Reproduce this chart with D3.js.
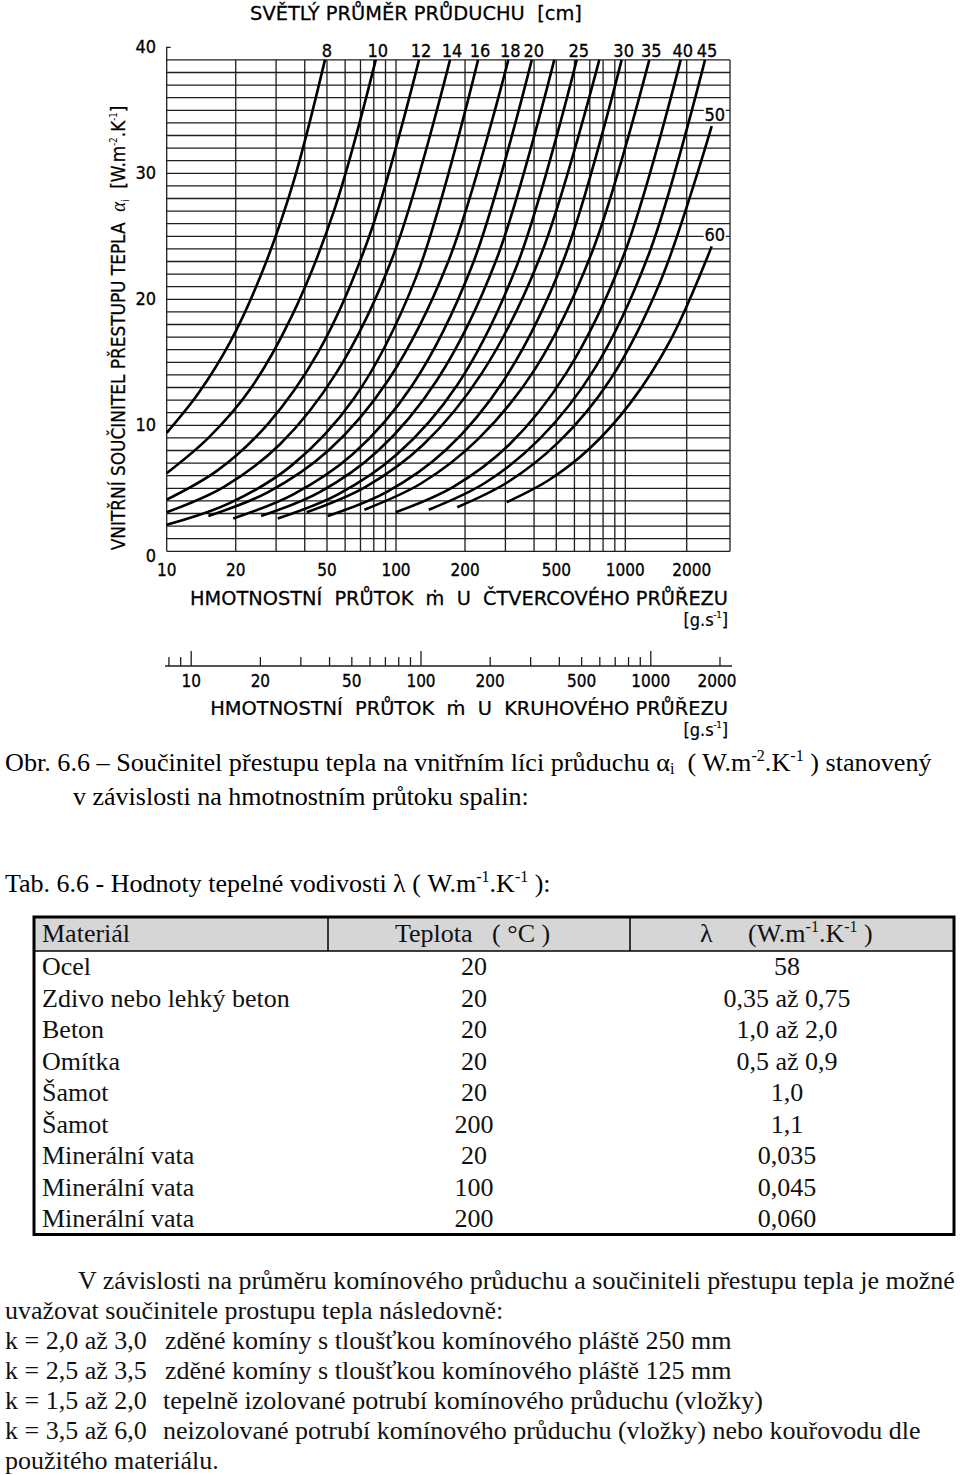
<!DOCTYPE html>
<html><head><meta charset="utf-8">
<script src="https://cdn.jsdelivr.net/npm/d3@7"></script>
<style>
body{margin:0;background:#fff;}
svg text{white-space:pre;}
</style></head><body>
<svg id="c" width="960" height="1475" xmlns="http://www.w3.org/2000/svg"></svg>
<script>
// ---------------- DATA ----------------
const yTickValues = [0, 10, 20, 30, 40];
const xGridValues = [10, 20, 30, 40, 50, 60, 70, 80, 90, 100, 200, 300, 400, 500, 600, 700, 800, 900, 1000, 2000];
const xTickLabels = [10, 20, 50, 100, 200, 500, 1000, 2000];
const rulerTicks = [8, 9, 10, 20, 30, 40, 50, 60, 70, 80, 90, 100, 200, 300, 400, 500, 600, 700, 800, 900, 1000, 2000];
const rulerMajor = [10, 100, 1000];
const rulerLabels = [10, 20, 50, 100, 200, 500, 1000, 2000];

// curves: [mass flow g/s (square section), alpha W/m2K] per flue diameter (cm)
const diameters = [8, 10, 12, 14, 16, 18, 20, 22, 25, 28, 30, 35, 40, 45, 50, 60];
const d8  = [[10, 9.4], [13.7, 12.5], [18.9, 16.6], [26, 22.1], [35.7, 29.3], [49, 39]];
const d10 = [[10, 6.2], [15.2, 9.0], [23.2, 12.9], [35.2, 18.7], [53.6, 27], [81.6, 39]];
const d12 = [[10, 4.1], [16.6, 6.4], [27.6, 10.1], [45.8, 15.8], [76.1, 24.9], [126, 39]];
const d14 = [[10, 3.1], [17.7, 5.1], [31.2, 8.5], [55.1, 14.2], [97.4, 23.5], [172, 39]];
const d16 = [[10, 2.1], [18.7, 3.8], [35, 6.8], [65.4, 12.1], [122, 21.7], [228, 39]];
const d18 = [[15.2, 2.8], [27.7, 4.7], [50.7, 8.0], [92.6, 13.6], [169, 23], [309, 39]];
const d20 = [[19.5, 2.6], [35.5, 4.5], [64.7, 7.7], [118, 13.2], [215, 22.7], [391, 39]];
const d22 = [[25.8, 2.8], [46.5, 4.7], [83.7, 8.0], [151, 13.6], [272, 23], [490, 39]];
const d25 = [[30.5, 2.6], [55.6, 4.5], [101, 7.7], [185, 13.2], [337, 22.7], [614, 39]];
const d28 = [[40.8, 3.1], [73.4, 5.1], [132, 8.5], [238, 14.2], [428, 23.5], [770, 39]];
const d30 = [[50.4, 2.8], [90.9, 4.7], [164, 8.0], [296, 13.6], [535, 23], [964, 39]];
const d35 = [[72.8, 3.3], [129, 5.4], [228, 8.9], [405, 14.5], [718, 23.8], [1311, 39]];
const d40 = [[99.7, 3.1], [177, 5.1], [313, 8.5], [555, 14.2], [984, 23.5], [1869, 39]];
const d45 = [[139, 3.3], [243, 5.4], [422, 8.9], [735, 14.5], [1319, 23.8], [2459, 39]];
const d50 = [[185, 3.5], [308, 5.5], [514, 8.7], [857, 13.6], [1493, 21.5], [2652, 33.75]];
const d60 = [[304, 3.9], [459, 5.6], [693, 8.1], [1051, 11.7], [1670, 16.8], [2652, 24.2]];
const curves = [d8, d10, d12, d14, d16, d18, d20, d22, d25, d28, d30, d35, d40, d45, d50, d60];
const topLabelled = [8, 10, 12, 14, 16, 18, 20, 25, 30, 35, 40, 45];
const sideLabelled = [50, 60];

// table
const tableHeader = ["Materiál", "Teplota", "λ"];
const tableMaterials = ["Ocel", "Zdivo nebo lehký beton", "Beton", "Omítka", "Šamot", "Šamot", "Minerální vata", "Minerální vata", "Minerální vata"];
const tableTemps = ["20", "20", "20", "20", "20", "200", "20", "100", "200"];
const tableLambdas = ["58", "0,35 až 0,75", "1,0 až 2,0", "0,5 až 0,9", "1,0", "1,1", "0,035", "0,045", "0,060"];

// notes
const noteLines = ["V závislosti na průměru komínového průduchu a součiniteli přestupu tepla je možné",
                   "uvažovat součinitele prostupu tepla následovně:"];
const kValues = ["k = 2,0 až 3,0", "k = 2,5 až 3,5", "k = 1,5 až 2,0", "k = 3,5 až 6,0"];
const kDescriptions = ["zděné komíny s tloušťkou komínového pláště 250 mm",
                       "zděné komíny s tloušťkou komínového pláště 125 mm",
                       "tepelně izolované potrubí komínového průduchu (vložky)",
                       "neizolované potrubí komínového průduchu (vložky) nebo kouřovodu dle"];
const lastLine = "použitého materiálu.";

// ---------------- DRAWING ----------------
const svg = d3.select("#c");
const SANS = "'DejaVu Sans Condensed','Liberation Sans Narrow','DejaVu Sans',sans-serif";
const SERIF = "'Liberation Serif','Times New Roman',serif";
const FS = 26; // serif text size

function fit(sel, w, anchor) {
  const b = sel.node().getBBox();
  const s = w / b.width;
  const ax = anchor === "start" ? b.x : anchor === "end" ? b.x + b.width : b.x + b.width / 2;
  sel.attr("transform", `translate(${ax},0) scale(${s},1) translate(${-ax},0)`);
}

const x = d3.scaleLog().domain([10, 1000, 2000, 3260]).range([166.7, 625.3, 686.7, 730]);
const y = d3.scaleLinear().domain([0, 40]).range([551.3, 47.3]);
const xr = d3.scaleLog().domain([10, 1000]).range([191.2, 650.8]);

const chart = svg.append("g");
const gridColor = "#1e1e1e";

// horizontal grid
chart.append("g").selectAll("line").data(d3.range(0, 40)).join("line")
  .attr("x1", x(10)).attr("x2", x(3260))
  .attr("y1", d => y(d)).attr("y2", d => y(d))
  .attr("stroke", gridColor).attr("stroke-width", 1.3);
// vertical grid
chart.append("g").selectAll("line").data(xGridValues.concat([3260])).join("line")
  .attr("x1", d => x(d)).attr("x2", d => x(d))
  .attr("y1", y(39)).attr("y2", y(0))
  .attr("stroke", gridColor).attr("stroke-width", 1.3);
// top 40 tick (left axis extension)
chart.append("path")
  .attr("d", `M${x(10)},${y(39)}V${y(40)}h4`)
  .attr("fill", "none").attr("stroke", gridColor).attr("stroke-width", 1.3);

// y tick labels
chart.append("g").selectAll("text").data(yTickValues).join("text")
  .attr("x", 156).attr("y", d => y(d) + (d === 0 ? 11 : 6))
  .attr("text-anchor", "end")
  .attr("font-family", SANS).attr("font-size", 18)
  .attr("stroke", "#000").attr("stroke-width", 0.3)
  .text(d => d);

// x tick labels
chart.append("g").selectAll("text").data(xTickLabels).join("text")
  .attr("x", d => x(d) + (d === 2000 ? 5 : 0)).attr("y", 576)
  .attr("text-anchor", "middle")
  .attr("font-family", SANS).attr("font-size", 17)
  .attr("stroke", "#000").attr("stroke-width", 0.3)
  .text(d => d);

// curves
const line = d3.line().x(d => x(d[0])).y(d => y(d[1])).curve(d3.curveCatmullRom.alpha(0.5));
chart.append("g").selectAll("path").data(curves).join("path")
  .attr("d", line)
  .attr("fill", "none").attr("stroke", "#000").attr("stroke-width", 2.6);

// top curve labels
chart.append("g").selectAll("text").data(topLabelled).join("text")
  .attr("x", d => { const c = curves[diameters.indexOf(d)]; return x(c[c.length - 1][0]) + 2; })
  .attr("y", 57)
  .attr("text-anchor", "middle")
  .attr("font-family", SANS).attr("font-size", 18)
  .attr("stroke", "#000").attr("stroke-width", 0.3)
  .text(d => d);

// side labels (50, 60) with white boxes
const side = chart.append("g").selectAll("g").data(sideLabelled).join("g")
  .attr("transform", d => { const c = curves[diameters.indexOf(d)]; const e = c[c.length - 1];
    return `translate(${x(e[0]) + 3},${y(e[1]) - 12})`; });
side.append("rect").attr("x", -11).attr("y", -8).attr("width", 22).attr("height", 16).attr("fill", "#fff");
side.append("text").attr("text-anchor", "middle").attr("y", 6.5)
  .attr("font-family", SANS).attr("font-size", 18)
  .attr("stroke", "#000").attr("stroke-width", 0.3).text(d => d);

// titles
const t1 = chart.append("text").attr("x", 416).attr("y", 20).attr("text-anchor", "middle")
  .attr("font-family", SANS).attr("font-size", 19).attr("stroke", "#000").attr("stroke-width", 0.25)
  .text("SVĚTLÝ PRŮMĚR PRŮDUCHU  [cm]");
fit(t1, 332, "middle");

const yt = chart.append("g").attr("transform", "translate(125,328) rotate(-90)");
const ytt = yt.append("text").attr("x", 0).attr("y", 0).attr("text-anchor", "middle")
  .attr("font-family", SANS).attr("font-size", 20).attr("stroke", "#000").attr("stroke-width", 0.25);
ytt.append("tspan").text("VNITŘNÍ SOUČINITEL PŘESTUPU TEPLA  ");
ytt.append("tspan").attr("font-family", SERIF).attr("font-style", "italic").attr("stroke-width", 0).text("α");
ytt.append("tspan").attr("font-size", 10).attr("dy", 4).attr("stroke-width", 0).text("i");
ytt.append("tspan").attr("dy", -4).text("  [W.m");
ytt.append("tspan").attr("font-size", 10).attr("dy", -8).attr("stroke-width", 0).text("-2");
ytt.append("tspan").attr("dy", 8).text(".K");
ytt.append("tspan").attr("font-size", 10).attr("dy", -8).attr("stroke-width", 0).text("-1");
ytt.append("tspan").attr("dy", 8).text("]");
fit(ytt, 445, "middle");

const bt = chart.append("text").attr("x", 728).attr("y", 605).attr("text-anchor", "end")
  .attr("font-family", SANS).attr("font-size", 20).attr("stroke", "#000").attr("stroke-width", 0.25)
  .text("HMOTNOSTNÍ  PRŮTOK  ṁ  U  ČTVERCOVÉHO PRŮŘEZU");
fit(bt, 538, "end");
const u1 = chart.append("text").attr("x", 728).attr("y", 626).attr("text-anchor", "end")
  .attr("font-family", SANS).attr("font-size", 18).attr("stroke", "#000").attr("stroke-width", 0.2);
u1.append("tspan").text("[g.s");
u1.append("tspan").attr("font-size", 9).attr("dy", -8).text("-1");
u1.append("tspan").attr("dy", 8).text("]");

// ruler (circular section)
const ruler = svg.append("g");
ruler.append("line").attr("x1", 165).attr("x2", 732).attr("y1", 666).attr("y2", 666)
  .attr("stroke", gridColor).attr("stroke-width", 1.3);
ruler.selectAll("line.t").data(rulerTicks).join("line").attr("class", "t")
  .attr("x1", d => xr(d)).attr("x2", d => xr(d))
  .attr("y1", 666).attr("y2", d => rulerMajor.includes(d) ? 651 : 657)
  .attr("stroke", gridColor).attr("stroke-width", 1.3);
ruler.selectAll("text.l").data(rulerLabels).join("text").attr("class", "l")
  .attr("x", d => xr(d) + (d === 2000 ? -3 : 0)).attr("y", 687)
  .attr("text-anchor", "middle")
  .attr("font-family", SANS).attr("font-size", 17)
  .attr("stroke", "#000").attr("stroke-width", 0.3)
  .text(d => d);
const bt2 = ruler.append("text").attr("x", 728).attr("y", 715).attr("text-anchor", "end")
  .attr("font-family", SANS).attr("font-size", 20).attr("stroke", "#000").attr("stroke-width", 0.25)
  .text("HMOTNOSTNÍ  PRŮTOK  ṁ  U  KRUHOVÉHO PRŮŘEZU");
fit(bt2, 518, "end");
const u2 = ruler.append("text").attr("x", 728).attr("y", 736).attr("text-anchor", "end")
  .attr("font-family", SANS).attr("font-size", 18).attr("stroke", "#000").attr("stroke-width", 0.2);
u2.append("tspan").text("[g.s");
u2.append("tspan").attr("font-size", 9).attr("dy", -8).text("-1");
u2.append("tspan").attr("dy", 8).text("]");

// ---------------- CAPTION ----------------
const cap = svg.append("g").attr("font-family", SERIF).attr("font-size", FS).attr("fill", "#000");
const c1 = cap.append("text").attr("x", 5).attr("y", 771);
c1.append("tspan").text("Obr. 6.6 – Součinitel přestupu tepla na vnitřním líci průduchu α");
c1.append("tspan").attr("font-size", 16).attr("dy", 3).text("i");
c1.append("tspan").attr("dy", -3).text("  ( W.m");
c1.append("tspan").attr("font-size", 16).attr("dy", -10).text("-2");
c1.append("tspan").attr("dy", 10).text(".K");
c1.append("tspan").attr("font-size", 16).attr("dy", -10).text("-1");
c1.append("tspan").attr("dy", 10).text(" ) stanovený");
fit(c1, 927, "start");
cap.append("text").attr("x", 73).attr("y", 805).text("v závislosti na hmotnostním průtoku spalin:");

const tb = cap.append("text").attr("x", 5).attr("y", 892);
tb.append("tspan").text("Tab. 6.6 - Hodnoty tepelné vodivosti λ ( W.m");
tb.append("tspan").attr("font-size", 16).attr("dy", -10).text("-1");
tb.append("tspan").attr("dy", 10).text(".K");
tb.append("tspan").attr("font-size", 16).attr("dy", -10).text("-1");
tb.append("tspan").attr("dy", 10).text(" ):");

// ---------------- TABLE ----------------
const T = svg.append("g").attr("font-family", SERIF).attr("font-size", FS).attr("fill", "#111");
const tX0 = 34, tX1 = 954, tY0 = 917, headH = 34, rowH = 31.5;
const colX = [34, 328, 630, 954];
T.append("rect").attr("x", tX0).attr("y", tY0).attr("width", tX1 - tX0).attr("height", headH).attr("fill", "#d6d6d6");
T.append("line").attr("x1", tX0).attr("x2", tX1).attr("y1", tY0 + headH).attr("y2", tY0 + headH).attr("stroke", "#000").attr("stroke-width", 1.5);
T.selectAll("line.cs").data([colX[1], colX[2]]).join("line").attr("class", "cs")
  .attr("x1", d => d).attr("x2", d => d).attr("y1", tY0).attr("y2", tY0 + headH)
  .attr("stroke", "#000").attr("stroke-width", 1.5);
T.append("rect").attr("x", tX0).attr("y", tY0).attr("width", tX1 - tX0)
  .attr("height", headH + rowH * tableMaterials.length)
  .attr("fill", "none").attr("stroke", "#000").attr("stroke-width", 3);
// header
T.append("text").attr("x", 42).attr("y", tY0 + 25).text(tableHeader[0]);
T.append("text").attr("x", 395).attr("y", tY0 + 25).text(tableHeader[1] + "   ( °C )");
const h3 = T.append("text").attr("x", 700).attr("y", tY0 + 25);
h3.append("tspan").text(tableHeader[2]);
h3.append("tspan").attr("x", 748).text("(W.m");
h3.append("tspan").attr("font-size", 16).attr("dy", -10).text("-1");
h3.append("tspan").attr("dy", 10).text(".K");
h3.append("tspan").attr("font-size", 16).attr("dy", -10).text("-1");
h3.append("tspan").attr("dy", 10).text(" )");
// rows
const rows = T.selectAll("g.r").data(tableMaterials).join("g").attr("class", "r")
  .attr("transform", (d, i) => `translate(0,${tY0 + headH + rowH * i + 24})`);
rows.append("text").attr("x", 42).text(d => d);
rows.append("text").attr("x", 474).attr("text-anchor", "middle").text((d, i) => tableTemps[i]);
rows.append("text").attr("x", 787).attr("text-anchor", "middle").text((d, i) => tableLambdas[i]);

// ---------------- NOTES ----------------
const N = svg.append("g").attr("font-family", SERIF).attr("font-size", FS).attr("fill", "#111");
N.append("text").attr("x", 78).attr("y", 1289).text(noteLines[0]);
N.append("text").attr("x", 5).attr("y", 1319).text(noteLines[1]);
const descStarts = [165, 165, 163, 163];
kValues.forEach((k, i) => {
  const yy = 1349 + 30 * i;
  N.append("text").attr("x", 5).attr("y", yy).text(k);
  N.append("text").attr("x", descStarts[i]).attr("y", yy).text(kDescriptions[i]);
});
N.append("text").attr("x", 5).attr("y", 1469).text(lastLine);
</script>
</body></html>
